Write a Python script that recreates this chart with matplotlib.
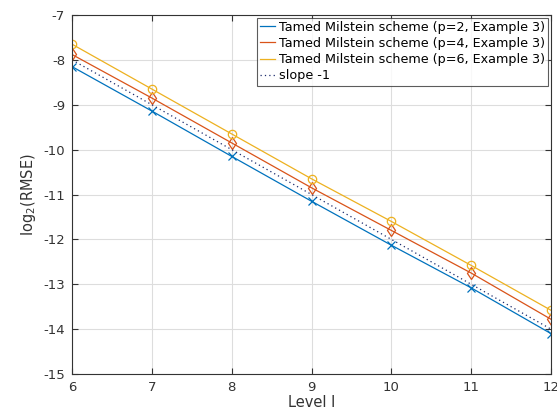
import matplotlib
matplotlib.use("Agg")
import matplotlib.pyplot as plt
import numpy as np

levels = [6, 7, 8, 9, 10, 11, 12]
rmse_p2 = [-8.15, -9.14, -10.15, -11.15, -12.13, -13.08, -14.10]
rmse_p4 = [-7.88, -8.85, -9.85, -10.85, -11.80, -12.75, -13.78]
rmse_p6 = [-7.65, -8.65, -9.65, -10.65, -11.60, -12.58, -13.58]
slope_ref = [-8.0, -9.0, -10.0, -11.0, -12.0, -13.0, -14.0]
labels = ["Tamed Milstein scheme (p=2, Example 3)",
          "Tamed Milstein scheme (p=4, Example 3)",
          "Tamed Milstein scheme (p=6, Example 3)",
          "slope -1"]

plt.rcParams['font.family'] = ['DejaVu Sans']
plt.rcParams['axes.unicode_minus'] = False
fig = plt.figure(figsize=(5.57, 4.17), dpi=100)
ax = fig.add_axes([72/557, 1-374/417, (551-72)/557, (374-15)/417])

ax.plot(levels, rmse_p2, color='#0072BD', marker='x', ms=6, lw=0.9, mew=0.9, label=labels[0])
ax.plot(levels, rmse_p4, color='#D95319', marker='d', ms=6, lw=0.9, mew=0.9, mfc='none', label=labels[1])
ax.plot(levels, rmse_p6, color='#EDB120', marker='o', ms=6, lw=0.9, mew=0.9, mfc='none', label=labels[2])
ax.plot(levels, slope_ref, color='#1a2a6c', ls=(0, (1, 2.5)), lw=0.9, label=labels[3])

ax.set_xlim(6, 12)
ax.set_ylim(-15, -7)
ax.set_xticks(range(6, 13))
ax.set_yticks(range(-15, -6))
ax.grid(True, color='#dddddd', lw=0.8)
ax.set_axisbelow(True)
for s in ax.spines.values():
    s.set_color('#333333')
    s.set_linewidth(0.8)
ax.tick_params(direction='in', length=4, colors='#333333', labelsize=9.5, width=0.8,
               top=True, right=True, pad=5)
ax.set_xlabel('Level l', fontsize=10.5, color='#333333', labelpad=1)
ax.set_ylabel(r'log$_2$(RMSE)', fontsize=10.5, color='#333333', labelpad=4)

leg = ax.legend(loc='upper right', fontsize=9.2, frameon=True, fancybox=False,
                handlelength=1.2, handletextpad=0.3, borderpad=0.25, labelspacing=0.25,
                borderaxespad=0.2, markerscale=0)
leg.get_frame().set_edgecolor('#333333')
leg.get_frame().set_linewidth(0.8)
for h in leg.legend_handles:
    h.set_marker('')

fig.savefig('out.png', dpi=100)
